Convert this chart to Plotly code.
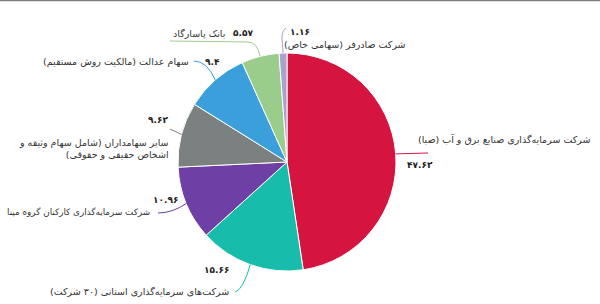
import math
import plotly.graph_objects as go

# ---- data ----
labels = [
    "شرکت سرمایه‌گذاری صنایع برق و آب (صبا)",
    "شرکت‌های سرمایه‌گذاری استانی (۳۰ شرکت)",
    "شرکت سرمایه‌گذاری کارکنان گروه مپنا",
    "سایر سهامداران (شامل سهام وثیقه و<br>اشخاص حقیقی و حقوقی)",
    "سهام عدالت (مالکیت روش مستقیم)",
    "بانک پاسارگاد",
    "شرکت صادرفر (سهامی خاص)",
]
values = [47.62, 15.66, 10.96, 9.62, 9.4, 5.57, 1.16]
colors = ["#D61440", "#17BCAA", "#6E3FA4", "#7B8080", "#3A9FDA", "#9ACD8C", "#A9A2CC"]

W, H = 600, 304
CX, CY, R = 287, 162, 109
RLM = "\u200F"

def fa(v):
    s = f"{v:g}"
    return s.translate(str.maketrans("0123456789", "۰۱۲۳۴۵۶۷۸۹"))

def rtl(t):
    return "<br>".join(RLM + part + RLM for part in t.split("<br>"))

def px(x, y):
    return x / W, 1 - y / H

fig = go.Figure(go.Pie(
    labels=labels, values=values, sort=False, direction="clockwise", rotation=0,
    marker=dict(colors=colors, line=dict(color="white", width=1)),
    textinfo="none", hoverinfo="label+value", showlegend=False,
    domain=dict(x=[(CX - R) / W, (CX + R) / W], y=[1 - (CY + R) / H, 1 - (CY - R) / H]),
))

# edge points at slice mid-angles
total = sum(values)
edge = []
acc = 0
for v in values:
    mid = (acc + v / 2) / total * 2 * math.pi
    edge.append((CX + R * math.sin(mid), CY - R * math.cos(mid)))
    acc += v

# label layout (pixel positions): number pos, label pos, leader route, label size
layout_info = [
    dict(num=(405, 165, "left"), lab=(593, 139, "right"), route=[(428, 153)], fs=9.5),
    dict(num=(231, 270, "right"), lab=(231, 291, "right"), route=[("Q", 243, 290), (235, 292)], fs=9.5),
    dict(num=(180, 200, "right"), lab=(152, 212, "right"), route=[("Q", 172, 213), (158, 213)], fs=8.8),
    dict(num=(170, 120, "right"), lab=(171, 148, "right"), route=[(170, 129)], fs=9.5),
    dict(num=(222, 62, "right"), lab=(191, 62, "right"), route=[("Q", 207, 61), (194, 61)], fs=9.5),
    dict(num=(255, 33, "right"), lab=(227, 34, "right"), route=[("Q", 257, 42), (248, 42), (170, 41)], fs=9.5),
    dict(num=(288, 32, "left"), lab=(408, 44, "right"), route=[(282, 38), ("Q", 282, 30), (286, 28)], fs=9.5),
]

annotations = []
shapes = []
for i, info in enumerate(layout_info):
    nx, ny, na = info["num"]
    x, y = px(nx, ny)
    annotations.append(dict(x=x, y=y, xref="paper", yref="paper", text="<b>" + fa(values[i]) + "</b>",
                            showarrow=False, xanchor=na, yanchor="middle",
                            font=dict(family="DejaVu Sans", size=9, color="#222")))
    lx, ly, la = info["lab"]
    x, y = px(lx, ly)
    annotations.append(dict(x=x, y=y, xref="paper", yref="paper", text=rtl(labels[i]),
                            showarrow=False, xanchor=la, yanchor="middle", align="right",
                            font=dict(family="DejaVu Sans", size=info["fs"], color="#333")))
    ex, ey = edge[i]
    sx, sy = px(ex, ey)
    path = f"M {sx},{sy}"
    pend = None
    for pt in info["route"]:
        if pt[0] == "Q":
            pend = pt[1:]
            continue
        qx, qy = px(*pt)
        if pend is not None:
            cx_, cy_ = px(*pend)
            path += f" Q {cx_},{cy_} {qx},{qy}"
            pend = None
        else:
            path += f" L {qx},{qy}"
    shapes.append(dict(type="path", xref="paper", yref="paper", path=path,
                       line=dict(color=colors[i], width=1)))

shapes.append(dict(type="line", xref="paper", yref="paper", x0=0, x1=1, y0=1 - 0.5 / H, y1=1 - 0.5 / H,
                   line=dict(color="#808080", width=1.5)))

fig.update_layout(width=W, height=H, margin=dict(l=0, r=0, t=0, b=0),
                  paper_bgcolor="white", plot_bgcolor="white",
                  annotations=annotations, shapes=shapes)
fig.write_html("out.html")
